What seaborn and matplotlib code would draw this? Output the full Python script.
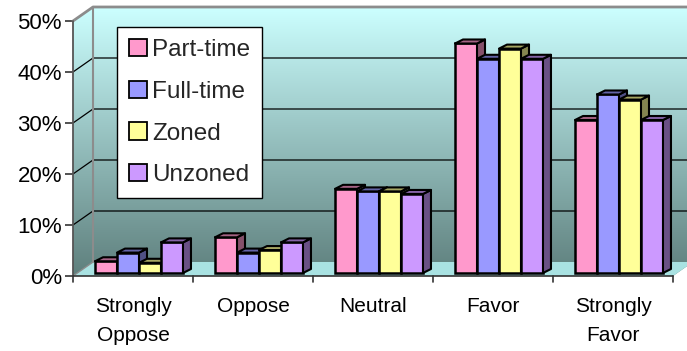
import numpy as np
import pandas as pd
import matplotlib
matplotlib.use("Agg")
import matplotlib.pyplot as plt
from matplotlib.patches import Polygon, Patch
from matplotlib.colors import to_rgb, LinearSegmentedColormap
import seaborn as sns

# Survey responses by work status and zoning
categories = ["Strongly\nOppose", "Oppose", "Neutral", "Favor", "Strongly\nFavor"]
series = ["Part-time", "Full-time", "Zoned", "Unzoned"]
part_time = [2.3, 7.0, 16.5, 45.0, 30.0]
full_time = [4.0, 4.0, 16.0, 42.0, 35.0]
zoned = [2.0, 4.5, 16.0, 44.0, 34.0]
unzoned = [6.0, 6.0, 15.5, 42.0, 30.0]
y_ticks = [0, 10, 20, 30, 40, 50]
colors = ["#ff99cc", "#9999ff", "#ffff99", "#cc99ff"]

df = pd.DataFrame({
    "Response": categories * 4,
    "Group": [s for s in series for _ in categories],
    "Share": part_time + full_time + zoned + unzoned,
})

sns.set_theme(style="white")
plt.rcParams["font.family"] = ["Liberation Sans", "DejaVu Sans"]

W, H = 687, 351
fig = plt.figure(figsize=(W / 100, H / 100), dpi=100)
ax = fig.add_axes([73 / W, (H - 276) / H, 600 / W, 255 / H])
ax.set_xlim(-0.5, 4.5)
ax.set_ylim(0, 50)

# depth offsets (category units, percent units)
px_x = 5.0 / 600
px_y = 50.0 / 255
wdx, wdy = 20 * px_x, 14 * px_y       # wall depth
bdx, bdy = 8 * px_x, 4 * px_y         # bar depth
base_x, base_y = 0.05, 3 * px_y       # bars sit slightly behind the front edge

x0, x1 = -0.5, 4.5

# gradient back + side wall
top_c = np.array(to_rgb("#ccffff"))
bot_c = np.array([0.37, 0.50, 0.49])
cmap = LinearSegmentedColormap.from_list("wall", [bot_c, top_c])
grad = np.linspace(0, 1, 256).reshape(-1, 1)
wall_poly = Polygon([(x0, 0), (x0, 50), (x0 + wdx, 50 + wdy), (x1 + wdx, 50 + wdy),
                     (x1 + wdx, wdy), (x1, 0)], closed=True, facecolor="none",
                    edgecolor="none", transform=ax.transData, clip_on=False)
ax.add_patch(wall_poly)
im = ax.imshow(grad, cmap=cmap, origin="lower", aspect="auto",
               extent=(x0, x1 + wdx, 0, 50 + wdy), zorder=0.5)
im.set_clip_box(fig.bbox)
im.set_clip_path(wall_poly)
ax.set_xlim(-0.5, 4.5)
ax.set_ylim(0, 50)

# floor
floor = Polygon([(x0, 0), (x1, 0), (x1 + wdx, wdy), (x0 + wdx, wdy)], closed=True,
                facecolor="#a9e2e2", edgecolor="none", zorder=0.8, clip_on=False)
ax.add_patch(floor)

# gridlines on side wall and back wall
for v in y_ticks[1:-1]:
    ax.plot([x0, x0 + wdx, x1 + wdx], [v, v + wdy, v + wdy], color="black",
            lw=0.9, zorder=1, clip_on=False, solid_capstyle="butt")

# wall frame
frame = "#8c8c8c"
ax.plot([x0, x0 + wdx, x1 + wdx], [50, 50 + wdy, 50 + wdy], color=frame, lw=2,
        zorder=1.2, clip_on=False)
ax.plot([x0 + wdx, x0 + wdx], [wdy, 50 + wdy], color=frame, lw=1.5, zorder=1.2,
        clip_on=False)
ax.plot([x0, x0 + wdx], [0, wdy], color=frame, lw=1, zorder=1.2, clip_on=False)
ax.plot([x0, x0], [0, 50], color="#555555", lw=1.3, zorder=1.3, clip_on=False)
ax.plot([x0, x1], [0, 0], color="#333333", lw=1.2, zorder=1.3, clip_on=False)

# bars
sns.barplot(data=df, x="Response", y="Share", hue="Group", hue_order=series,
            order=categories, palette=colors, saturation=1, width=0.733,
            edgecolor="black", linewidth=1.8, ax=ax, legend=False, errorbar=None)

bars = sorted([p for p in ax.patches if p is not floor and p is not wall_poly],
              key=lambda p: p.get_x())
for i, p in enumerate(bars):
    p.set_x(p.get_x() + base_x)
    p.set_y(base_y)
    x, w, h = p.get_x(), p.get_width(), p.get_height()
    top = base_y + h
    fc = np.array(to_rgb(p.get_facecolor()))
    z = 3 + 3 * i
    p.set_zorder(z)
    p.set_clip_on(False)
    side = Polygon([(x + w, base_y), (x + w + bdx, base_y + bdy),
                    (x + w + bdx, top + bdy), (x + w, top)], closed=True,
                   facecolor=fc * 0.52, edgecolor="black", lw=1.5, zorder=z + 1,
                   joinstyle="round", clip_on=False)
    cap = Polygon([(x, top), (x + w, top), (x + w + bdx, top + bdy), (x + bdx, top + bdy)],
                  closed=True, facecolor=fc * 0.65, edgecolor="black", lw=1.5,
                  zorder=z + 2, joinstyle="round", clip_on=False)
    ax.add_patch(side)
    ax.add_patch(cap)

# axes and ticks
for s in ax.spines.values():
    s.set_visible(False)
ax.set_yticks(y_ticks)
ax.set_yticklabels([f"{v}%" for v in y_ticks], fontsize=16, color="black")
ax.tick_params(axis="y", length=6, width=1.2, color="#333333", pad=2, left=True)
ax.set_xticks(range(len(categories)))
ax.set_xticklabels(categories, fontsize=15, color="black", linespacing=1.65,
                   va="top")
ax.tick_params(axis="x", length=0, pad=15)
for xb in np.arange(-0.5, 4.6, 1.0):
    ax.plot([xb, xb], [0, -6 * px_y], color="#333333", lw=1.2, clip_on=False, zorder=1.3)
ax.set_xlabel("")
ax.set_ylabel("")
ax.grid(False)
ax.set_facecolor("none")

# legend
handles = [Patch(facecolor=c, edgecolor="black", lw=1.3) for c in colors]
leg = fig.legend(handles, series, loc="upper left",
                 bbox_to_anchor=(117 / W, 1 - 27 / H), frameon=True, fancybox=False,
                 fontsize=17.5, handlelength=0.72, handleheight=0.72, handletextpad=0.22,
                 labelspacing=0.8, borderpad=0.5, borderaxespad=0)
leg.get_frame().set_edgecolor("black")
leg.get_frame().set_linewidth(1.0)
leg.get_frame().set_facecolor("white")
leg.get_frame().set_alpha(1)
leg.set_zorder(100)

fig.savefig("out.png", dpi=100, facecolor="white")
